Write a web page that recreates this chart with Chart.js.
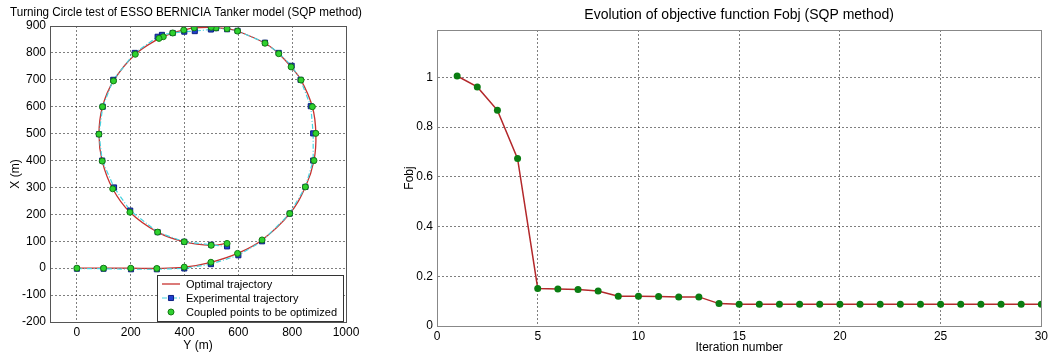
<!DOCTYPE html>
<html>
<head>
<meta charset="utf-8">
<script src="https://cdn.jsdelivr.net/npm/chart.js@4.4.0/dist/chart.umd.min.js"></script>
<style>
  html, body { margin: 0; padding: 0; background: #fff; }
  #wrap { position: relative; width: 1051px; height: 358px; }
  #left { position: absolute; left: 0; top: 0; width: 372px; height: 358px; }
  #right { position: absolute; left: 380px; top: 0; width: 671px; height: 358px; }
</style>
</head>
<body>
<div id="wrap">
  <div id="left"><canvas id="circle"></canvas></div>
  <div id="right"><canvas id="fobj"></canvas></div>
</div>
<script>
const FONT = "'Liberation Sans', Arial, sans-serif";

// turning circle: horizontal = Y (m), vertical = X (m)
const coupledY = [0, 99, 200, 297, 399, 498, 597, 688, 791, 849, 881, 888, 875, 833, 796, 750, 699, 597, 558, 517, 499, 436, 397, 356, 321, 305, 217, 136, 95, 82, 94, 133, 197, 300, 399, 499, 558];
const coupledX = [0, 0, 0, -1, 4, 22, 55, 105, 203, 302, 400, 501, 600, 699, 748, 797, 836, 881, 890, 893, 895, 893, 885, 874, 860, 854, 795, 696, 600, 498, 398, 295, 208, 134, 98, 85, 92];
const expY = [0, 99, 201, 297, 399, 498, 600, 688, 791, 849, 878, 878, 869, 831, 798, 750, 699, 597, 558, 517, 498, 438, 399, 356, 316, 300, 215, 135, 96, 82, 94, 138, 198, 300, 399, 499, 558];
const expX = [-2, -2, -4, -4, -1, 15, 48, 100, 203, 302, 400, 501, 602, 700, 752, 800, 838, 882, 888, 892, 887, 881, 879, 874, 867, 860, 800, 700, 600, 498, 400, 300, 214, 134, 98, 87, 81];

// objective function per iteration
const iterations = [1, 2, 3, 4, 5, 6, 7, 8, 9, 10, 11, 12, 13, 14, 15, 16, 17, 18, 19, 20, 21, 22, 23, 24, 25, 26, 27, 28, 29, 30];
const fobj = [1.005, 0.961, 0.867, 0.673, 0.151, 0.149, 0.147, 0.141, 0.12, 0.12, 0.119, 0.117, 0.117, 0.09, 0.087, 0.087, 0.087, 0.087, 0.087, 0.087, 0.087, 0.087, 0.087, 0.087, 0.087, 0.087, 0.087, 0.087, 0.087, 0.087];

const pts = (xs, ys) => xs.map((v, i) => ({ x: v, y: ys[i] }));
const plain = v => String(Number(v.toFixed(3)));

// full box around the plot area, like matlab axes
const boxPlugin = {
  id: 'box',
  afterDraw(chart, args, opts) {
    const { ctx, chartArea: a } = chart;
    ctx.save();
    ctx.strokeStyle = opts.color || '#555';
    ctx.lineWidth = 1;
    ctx.strokeRect(Math.round(a.left) + 0.5, Math.round(a.top) + 0.5, Math.round(a.right - a.left), Math.round(a.bottom - a.top));
    ctx.restore();
  }
};

// let the title run wider than the plot, as in the original
const titleSpan = {
  id: 'titleSpan',
  afterLayout(chart, args, opts) {
    const t = chart.titleBlock, a = chart.chartArea;
    if (!t || !opts.enabled) return;
    t.left = a.left - opts.l;
    t.right = a.right + opts.r;
  }
};

// legend drawn inside the plot, bottom right
const insideLegend = {
  id: 'insideLegend',
  afterDraw(chart, args, opts) {
    if (!opts.display) return;
    const { ctx, chartArea: a } = chart;
    const rows = opts.order.map(i => chart.data.datasets[i]);
    ctx.save();
    ctx.font = '11px ' + FONT;
    const tw = Math.max(...rows.map(d => ctx.measureText(d.label).width));
    const w = Math.round(29 + tw + 6), h = 46;
    const x = Math.round(a.right - 3 - w), y = Math.round(a.bottom - 1 - h);
    ctx.fillStyle = '#fff';
    ctx.fillRect(x, y, w, h);
    ctx.strokeStyle = '#333';
    ctx.lineWidth = 1;
    ctx.strokeRect(x + 0.5, y + 0.5, w, h);
    rows.forEach((d, i) => {
      const cy = y + 9 + i * 14;
      const x0 = x + 5, x1 = x + 23, xm = (x0 + x1) / 2;
      if (d.showLine) {
        ctx.save();
        ctx.strokeStyle = d.borderColor;
        ctx.lineWidth = d.borderWidth;
        ctx.setLineDash(d.borderDash || []);
        ctx.beginPath(); ctx.moveTo(x0, cy); ctx.lineTo(x1, cy); ctx.stroke();
        ctx.restore();
      }
      if (d.pointRadius > 0) {
        ctx.save();
        ctx.fillStyle = d.pointBackgroundColor;
        ctx.strokeStyle = d.pointBorderColor;
        ctx.lineWidth = d.pointBorderWidth;
        Chart.helpers.drawPoint(ctx, { pointStyle: d.pointStyle, radius: d.pointRadius, rotation: 0, borderWidth: d.pointBorderWidth }, xm, cy);
        ctx.restore();
      }
      ctx.fillStyle = '#000';
      ctx.textBaseline = 'middle';
      ctx.fillText(d.label, x + 29, cy + 0.5);
    });
    ctx.restore();
  }
};

Chart.defaults.font.family = FONT;
Chart.defaults.color = '#000';
Chart.defaults.animation = false;

const gridOpts = { color: 'rgba(0,0,0,0.5)', drawTicks: false, lineWidth: 1 };

new Chart(document.getElementById('circle'), {
  type: 'scatter',
  data: {
    datasets: [
      {
        label: 'Coupled points to be optimized',
        data: pts(coupledY, coupledX),
        showLine: false,
        pointStyle: 'circle',
        pointRadius: 3,
        pointBackgroundColor: '#2fd12f',
        pointBorderColor: '#147a14',
        pointBorderWidth: 1
      },
      {
        label: 'Experimental trajectory',
        data: pts(expY, expX),
        showLine: true,
        borderColor: '#45d3e0',
        borderWidth: 1.2,
        borderDash: [5, 2, 1, 2],
        pointStyle: 'rect',
        pointRadius: 3.6,
        pointBackgroundColor: '#1f3fd0',
        pointBorderColor: '#0c1f80',
        pointBorderWidth: 1
      },
      {
        label: 'Optimal trajectory',
        data: pts(coupledY, coupledX),
        showLine: true,
        borderColor: '#c8322f',
        borderWidth: 1.3,
        tension: 0.4,
        pointRadius: 0
      }
    ]
  },
  options: {
    responsive: true,
    maintainAspectRatio: false,
    layout: { padding: { left: 0, right: 26, top: 0, bottom: 0 } },
    plugins: {
      legend: { display: false },
      tooltip: { enabled: false },
      title: {
        display: true,
        text: 'Turning Circle test of ESSO BERNICIA Tanker model (SQP method)',
        font: { size: 12, weight: 'normal' },
        color: '#000',
        padding: { top: 5, bottom: 6.6 }
      },
      titleSpan: { enabled: true, l: 40, r: 16 },
      box: { color: '#555' },
      insideLegend: { display: true, order: [2, 1, 0] }
    },
    scales: {
      x: {
        type: 'linear',
        min: -100, max: 1000,
        ticks: { stepSize: 200, includeBounds: false, padding: 3, font: { size: 12 }, maxRotation: 0, callback: plain },
        grid: gridOpts,
        border: { color: '#555', dash: [2, 2] },
        title: { display: true, text: 'Y (m)', font: { size: 12 }, padding: { top: 0, bottom: 5 } },
        afterFit(s) { s.height = 36; }
      },
      y: {
        type: 'linear',
        min: -200, max: 900,
        ticks: { stepSize: 100, padding: 4, font: { size: 12 }, callback: plain },
        grid: gridOpts,
        border: { color: '#555', dash: [2, 2] },
        title: { display: true, text: 'X (m)', font: { size: 12 }, padding: { top: 8, bottom: 0 } },
        afterFit(s) { s.width = 50; }
      }
    }
  },
  plugins: [titleSpan, boxPlugin, insideLegend]
});

new Chart(document.getElementById('fobj'), {
  type: 'scatter',
  data: {
    datasets: [{
      label: 'Fobj',
      data: pts(iterations, fobj),
      showLine: true,
      borderColor: '#b3282b',
      borderWidth: 1.5,
      pointStyle: 'circle',
      pointRadius: 3.5,
      pointBackgroundColor: '#0b7d12',
      pointBorderColor: '#0b7d12',
      pointBorderWidth: 0
    }]
  },
  options: {
    responsive: true,
    maintainAspectRatio: false,
    layout: { padding: { left: 0, right: 9, top: 0, bottom: 0 } },
    plugins: {
      legend: { display: false },
      tooltip: { enabled: false },
      title: {
        display: true,
        fullSize: false,
        text: 'Evolution of objective function Fobj (SQP method)',
        font: { size: 14, weight: 'normal' },
        color: '#000',
        padding: { top: 7, bottom: 6.2 }
      },
      titleSpan: { enabled: false },
      box: { color: '#888' },
      insideLegend: { display: false }
    },
    scales: {
      x: {
        type: 'linear',
        min: 0, max: 30,
        ticks: { stepSize: 5, padding: 3, font: { size: 12 }, maxRotation: 0, callback: plain },
        grid: gridOpts,
        border: { color: '#888', dash: [2, 2] },
        title: { display: true, text: 'Iteration number', font: { size: 12 }, padding: { top: 0, bottom: 3 } },
        afterFit(s) { s.height = 32; }
      },
      y: {
        type: 'linear',
        min: 0, max: 1.19,
        ticks: { stepSize: 0.2, includeBounds: false, padding: 4, font: { size: 12 }, callback: plain },
        grid: gridOpts,
        border: { color: '#888', dash: [2, 2] },
        title: { display: true, text: 'Fobj', font: { size: 12 }, padding: { top: 22, bottom: 0 } },
        afterFit(s) { s.width = 57; }
      }
    }
  },
  plugins: [titleSpan, boxPlugin, insideLegend]
});
</script>
</body>
</html>
